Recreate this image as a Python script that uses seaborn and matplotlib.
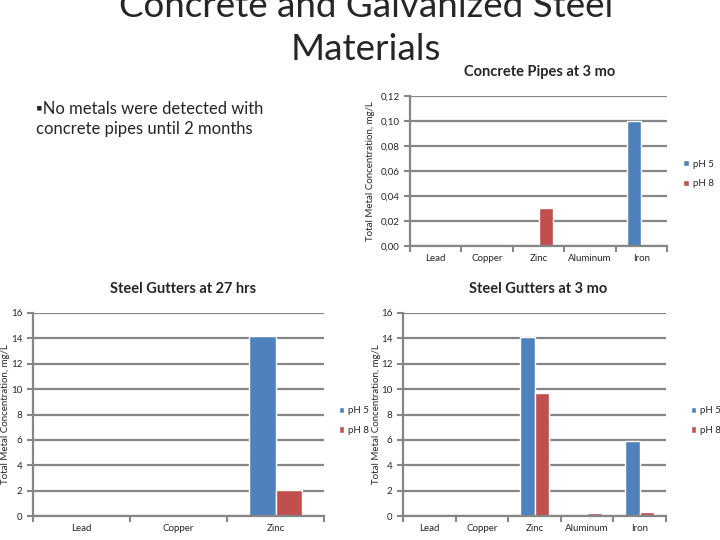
import pandas as pd
import numpy as np
import matplotlib.pyplot as plt
import seaborn as sns
from matplotlib.patches import Patch
from matplotlib.ticker import FuncFormatter

# ====================================
# DATA
# ====================================

ph_levels = ["pH 5", "pH 8"]

pipes_metals = ["Lead", "Copper", "Zinc", "Aluminum", "Iron"]
pipes_ph5 = [0, 0, 0, 0, 0.10]
pipes_ph8 = [0, 0, 0.03, 0, 0]

gut27_metals = ["Lead", "Copper", "Zinc"]
gut27_ph5 = [0, 0, 14.15]
gut27_ph8 = [0, 0, 2.05]

gut3_metals = ["Lead", "Copper", "Zinc", "Aluminum", "Iron"]
gut3_ph5 = [0, 0, 14.1, 0, 5.9]
gut3_ph8 = [0, 0, 9.7, 0.2, 0.3]

BLUE = "#4F81BD"
RED = "#C0504D"
GRID = "#868686"

sns.set_theme(style="white")
plt.rcParams["font.family"] = ["Lato", "DejaVu Sans"]


def long_df(metals, v5, v8):
    return pd.DataFrame({
        "Metal": metals * 2,
        "pH": [ph_levels[0]] * len(metals) + [ph_levels[1]] * len(metals),
        "Value": list(v5) + list(v8),
    })


def draw(ax, df, ymax, ystep, fmt, tick_fs, leg_x, leg_y, lpad):
    n = df["Metal"].nunique()
    sns.barplot(data=df, x="Metal", y="Value", hue="pH",
                palette=[BLUE, RED], width=0.55, ax=ax,
                saturation=1, legend=False)
    ax.set_xlim(-0.5, n - 0.5)
    ax.set_ylim(0, ymax)
    ax.set_yticks(np.arange(0, ymax + ystep / 2, ystep))
    ax.yaxis.set_major_formatter(FuncFormatter(fmt))
    ax.yaxis.grid(True, color=GRID, linewidth=1.6)
    ax.set_axisbelow(True)
    for s in ["top", "right"]:
        ax.spines[s].set_visible(False)
    for s in ["left", "bottom"]:
        ax.spines[s].set_color(GRID)
        ax.spines[s].set_linewidth(1.6)
    ax.set_xlabel("")
    ax.set_ylabel("Total Metal Concentration, mg/L", fontsize=tick_fs,
                  labelpad=lpad)
    ax.tick_params(axis="x", which="major", length=0, labelsize=tick_fs, pad=6)
    ax.tick_params(axis="y", which="major", length=4, width=1.5, color=GRID,
                   labelsize=tick_fs, left=True)
    ax.set_xticks(np.arange(-0.5, n), minor=True)
    ax.tick_params(axis="x", which="minor", length=4, width=1.5, color=GRID,
                   bottom=True)
    handles = [Patch(facecolor=BLUE), Patch(facecolor=RED)]
    ax.legend(handles, ph_levels, loc="center left",
              bbox_to_anchor=(leg_x, leg_y), frameon=False,
              fontsize=tick_fs, handlelength=0.6, handleheight=0.6,
              handletextpad=0.4, labelspacing=1.1)


fig = plt.figure(figsize=(7.2, 5.4), dpi=100)

fig.text(0.508, 1 - 17 / 540, "Concrete and Galvanized Steel",
         ha="center", va="baseline", fontsize=26.5)
fig.text(0.508, 1 - 60 / 540, "Materials",
         ha="center", va="baseline", fontsize=26.5)
fig.text(0.05, 1 - 119 / 540,
         "\u25aaNo metals were detected with\nconcrete pipes until 2 months",
         ha="left", va="center", fontsize=12, linespacing=1.35)

# Concrete pipes
ax1 = fig.add_axes([410 / 720, 1 - 246 / 540, 257 / 720, 150 / 540])
draw(ax1, long_df(pipes_metals, pipes_ph5, pipes_ph8), 0.12, 0.02,
     lambda v, p: f"{v:.2f}".replace(".", ","), 7, 1.03, 0.48, 4)
fig.text(540 / 720, 1 - 72 / 540, "Concrete Pipes at 3 mo",
         ha="center", va="center", fontsize=10.5, fontweight="bold")

# Steel gutters 27 hrs
ax2 = fig.add_axes([33 / 720, 1 - 516 / 540, 291 / 720, 203 / 540])
draw(ax2, long_df(gut27_metals, gut27_ph5, gut27_ph8), 16, 2,
     lambda v, p: f"{v:.0f}", 7, 1.02, 0.47, 1)
fig.text(183 / 720, 1 - 289 / 540, "Steel Gutters at 27 hrs",
         ha="center", va="center", fontsize=10.5, fontweight="bold")

# Steel gutters 3 mo
ax3 = fig.add_axes([403 / 720, 1 - 516 / 540, 263 / 720, 203 / 540])
draw(ax3, long_df(gut3_metals, gut3_ph5, gut3_ph8), 16, 2,
     lambda v, p: f"{v:.0f}", 7, 1.06, 0.47, 0)
fig.text(538 / 720, 1 - 289 / 540, "Steel Gutters at 3 mo",
         ha="center", va="center", fontsize=10.5, fontweight="bold")

plt.savefig("out.png", dpi=100)
